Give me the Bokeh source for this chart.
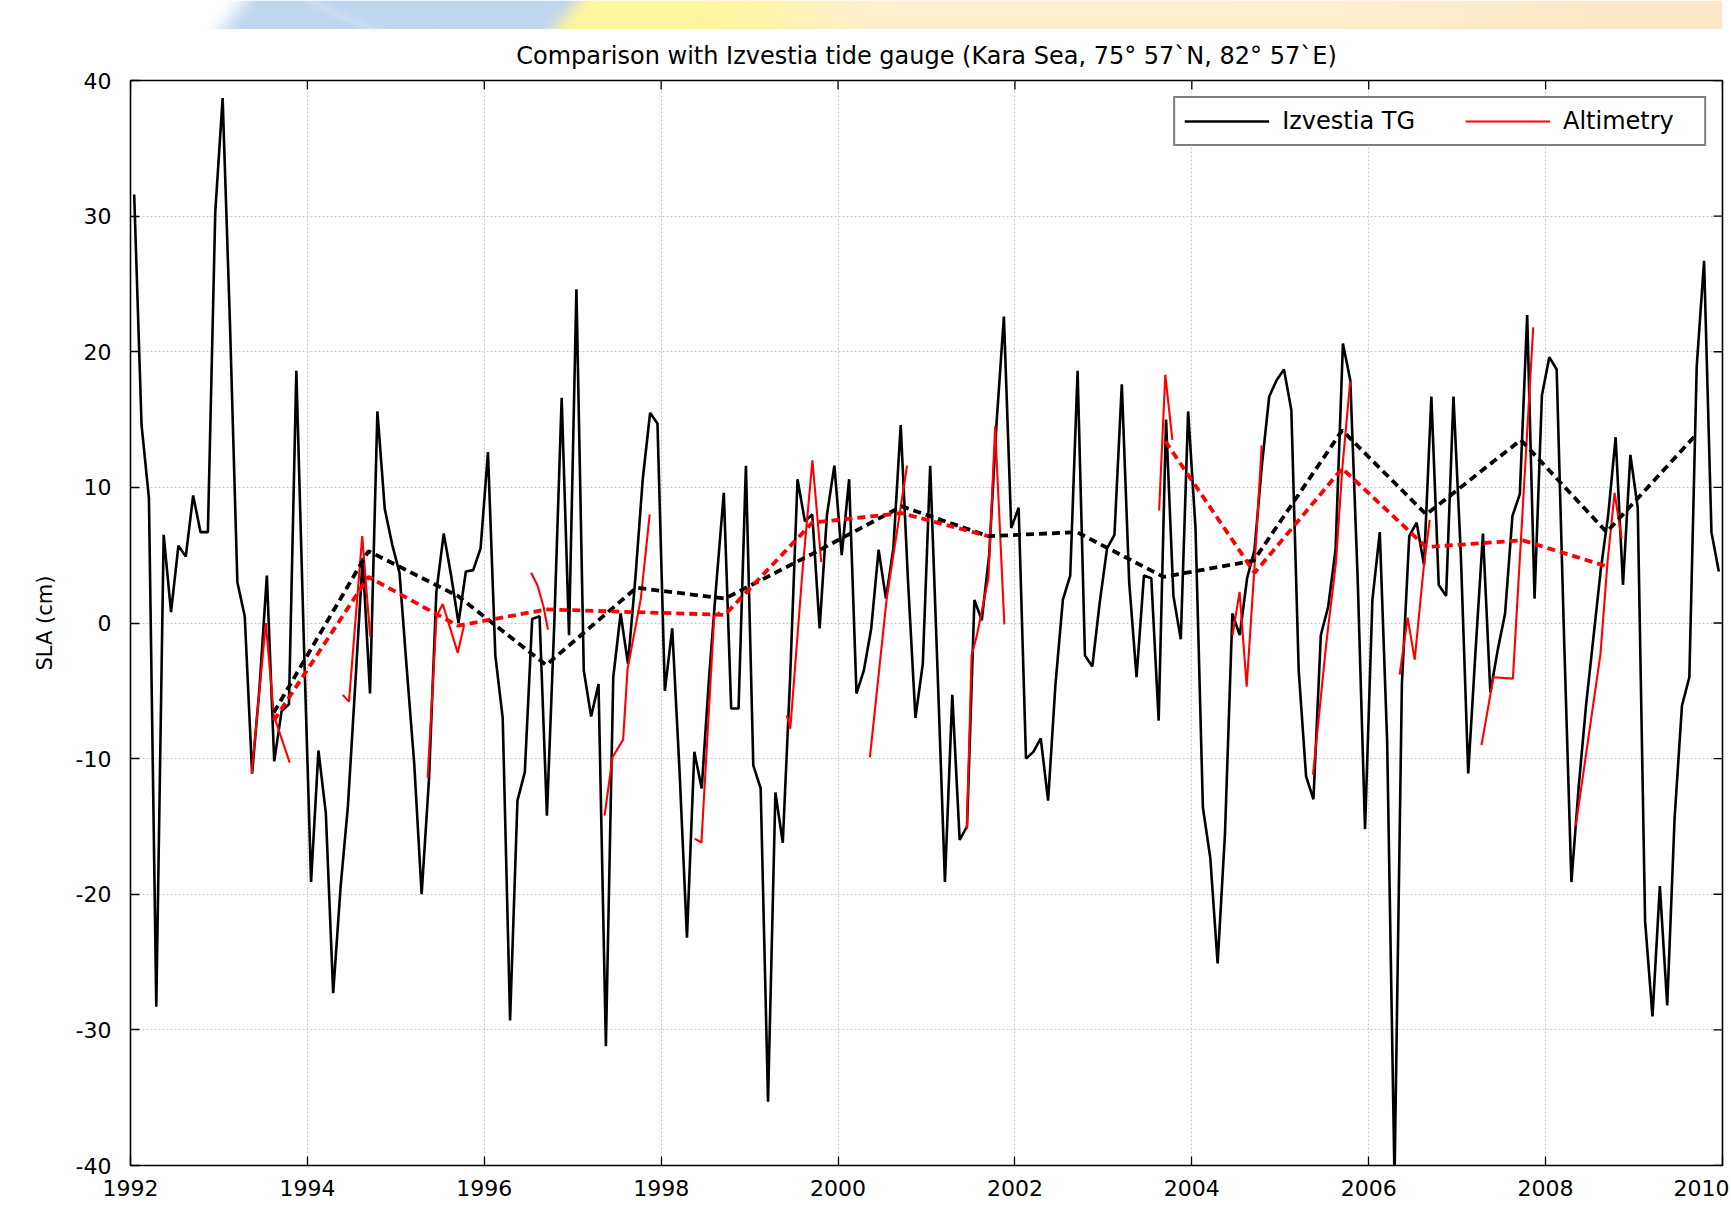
import numpy as np
from bokeh.plotting import figure
from bokeh.models import Range1d, Legend, LegendItem, FixedTicker
from bokeh.layouts import column
from bokeh.embed import file_html
from bokeh.resources import INLINE

FONT = "DejaVu Sans"

# ---------------- data ----------------
title_text = "Comparison with Izvestia tide gauge (Kara Sea, 75\u00b0 57`N, 82\u00b0 57`E)"
y_label = "SLA (cm)"
x_ticks = [1992, 1994, 1996, 1998, 2000, 2002, 2004, 2006, 2008, 2010]
y_ticks = [-40, -30, -20, -10, 0, 10, 20, 30, 40]
legend_labels = ["Izvestia TG", "Altimetry"]

# monthly tide gauge SLA (cm), Jan 1992 .. Dec 2009
tg_start_year = 1992
tg_sla = [
    31.6, 14.6, 9.2, -28.3, 6.5, 0.8, 5.7, 4.9, 9.4, 6.7, 6.7, 30.3,
    38.7, 22.0, 3.0, 0.5, -11.1, -4.8, 3.5, -10.2, -6.5, -6.0, 18.6, -1.0,
    -19.1, -9.4, -14.0, -27.3, -19.5, -13.5, -4.5, 4.8, -5.2, 15.6, 8.4, 5.8,
    3.7, -3.5, -10.4, -20.0, -11.5, 2.3, 6.6, 3.5, 0.0, 3.8, 3.9, 5.5,
    12.6, -2.4, -7.0, -29.3, -13.1, -11.0, 0.3, 0.5, -14.2, 0.0, 16.6, -0.9,
    24.6, -3.5, -6.9, -4.5, -31.2, -4.0, 0.7, -3.0, 3.3, 10.6, 15.5, 14.7,
    -5.0, -0.4, -11.0, -23.2, -9.5, -12.2, -4.0, 3.0, 9.6, -6.3, -6.3, 11.6,
    -10.5, -12.2, -35.3, -12.5, -16.2, -4.0, 10.6, 7.5, 8.0, -0.4, 8.0, 11.6,
    5.0, 10.6, -5.2, -3.5, -0.4, 5.4, 1.8, 5.5, 14.6, 3.0, -7.0, -3.0,
    11.6, -3.5, -19.1, -5.3, -16.0, -15.0, 1.7, 0.2, 5.0, 14.7, 22.6, 7.0,
    8.5, -10.0, -9.5, -8.5, -13.1, -4.5, 1.7, 3.5, 18.6, -2.4, -3.2, 1.5,
    5.5, 6.5, 17.6, 3.0, -4.0, 3.5, 3.3, -7.2, 15.0, 2.0, -1.2, 15.6,
    7.0, -13.6, -17.3, -25.1, -15.5, 0.7, -0.9, 3.3, 5.4, 11.6, 16.7, 17.9,
    18.7, 15.7, -3.5, -11.3, -13.0, -0.9, 1.2, 5.4, 20.6, 17.9, 3.3, -15.2,
    1.7, 6.7, -8.7, -41.0, -4.5, 6.4, 7.4, 4.3, 16.7, 2.8, 2.0, 16.7,
    5.0, -11.1, -2.0, 6.6, -5.1, -2.0, 0.7, 7.9, 9.5, 22.7, 1.8, 16.8,
    19.6, 18.7, -1.0, -19.1, -12.0, -6.0, -1.0, 4.0, 8.0, 13.7, 2.8, 12.4,
    8.5, -22.0, -29.0, -19.4, -28.2, -14.4, -6.1, -4.0, 18.9, 26.7, 6.7, 3.8,
]
tg_time = [tg_start_year + (i + 0.5) / 12.0 for i in range(len(tg_sla))]

# altimetry segments (ice-free seasons)
alt_times = [
    [1993.37, 1993.53, 1993.62, 1993.80],
    [1994.40, 1994.47, 1994.62, 1994.71],
    [1995.36, 1995.46, 1995.53, 1995.70, 1995.77],
    [1996.53, 1996.60, 1996.67, 1996.72],
    [1997.36, 1997.45, 1997.57, 1997.62, 1997.77, 1997.87],
    [1998.38, 1998.455, 1998.60, 1998.66],
    [1999.42, 1999.46, 1999.60, 1999.71, 1999.81],
    [2000.36, 2000.55, 2000.78],
    [2001.456, 2001.51, 2001.57, 2001.70, 2001.776, 2001.88],
    [2003.63, 2003.70, 2003.78],
    [2004.46, 2004.54, 2004.62, 2004.71, 2004.79],
    [2005.37, 2005.52, 2005.63, 2005.70, 2005.79],
    [2006.35, 2006.44, 2006.52, 2006.62, 2006.69],
    [2007.275, 2007.41, 2007.63, 2007.86],
    [2008.34, 2008.62, 2008.70, 2008.78, 2008.86],
]
alt_sla = [
    [-11.1, 0.0, -6.8, -10.3],
    [-5.3, -5.8, 6.4, -1.0],
    [-11.4, 0.5, 1.4, -2.2, -0.2],
    [3.7, 2.8, 1.2, -0.5],
    [-14.2, -9.9, -8.6, -3.4, 1.8, 8.0],
    [-15.9, -16.2, 0.5, 0.8],
    [-6.8, -7.8, 4.0, 12.0, 4.5],
    [-9.9, 1.8, 11.6],
    [-15.2, -2.4, -0.9, 3.3, 14.5, -0.1],
    [8.3, 18.3, 13.5],
    [-0.9, 2.3, -4.7, 4.3, 13.1],
    [-11.2, -1.5, 4.5, 11.3, 17.8],
    [-3.8, 0.4, -2.7, 4.0, 7.6],
    [-9.0, -4.0, -4.1, 21.8],
    [-15.0, -2.3, 4.5, 9.6, 6.2],
]

# annual means (dashed)
tg_annual_year = [1993.62, 1994.69, 1995.70, 1996.70, 1997.72, 1998.72, 1999.71, 2000.72,
                  2001.70, 2002.70, 2003.68, 2004.70, 2005.70, 2006.65, 2007.72, 2008.69, 2009.69]
tg_annual_sla = [-6.6, 5.3, 2.0, -3.1, 2.6, 1.8, 5.1, 8.6,
                 6.4, 6.7, 3.4, 4.6, 14.2, 8.0, 13.5, 6.7, 13.8]
alt_annual_year = [1993.62, 1994.69, 1995.70, 1996.70, 1997.72, 1998.72, 1999.71, 2000.72,
                   2001.70, 2002.70, 2003.70, 2004.71, 2005.70, 2006.65, 2007.74, 2008.68]
alt_annual_sla = [-7.2, 3.4, -0.2, 1.0, 0.8, 0.6, 7.4, 8.1,
                  6.4, float("nan"), 13.4, 3.7, 11.4, 5.6, 6.1, 4.2]

X_MIN, X_MAX = x_ticks[0], x_ticks[-1]
Y_MIN, Y_MAX = y_ticks[0], y_ticks[-1]

# ---------------- layout geometry ----------------
TOTAL_W = 1729
BANNER_H = 29
MAIN_H = 1177
BORDER_L, BORDER_R, BORDER_T, BORDER_B = 130, 7, 50, 41
FRAME_W = TOTAL_W - BORDER_L - BORDER_R
FRAME_H = MAIN_H - BORDER_T - BORDER_B
TICK_PX = 9

# ---------------- banner (decorative slide header) ----------------
BW, BH = TOTAL_W, BANNER_H
X = np.arange(BW)[None, :].astype(float)
Y = np.arange(BH)[:, None].astype(float)


def smooth(t):
    t = np.clip(t, 0.0, 1.0)
    return t * t * (3 - 2 * t)


white = np.array([255, 255, 255.0])
blue = np.array([192, 214, 239.0])
streak = np.array([224, 235, 247.0])
yellow = np.array([255, 246, 158.0])
cream = np.array([254, 239, 206.0])
peach = np.array([252, 232, 200.0])
tb = smooth((X - (100 - 0.8 * Y)) / 45.0)[..., None]
col = white * (1 - tb) + blue * tb
ws = (np.exp(-((X - (195 + 2.3 * Y)) / 13.0) ** 2) * 0.35)[..., None] * tb
col = col * (1 - ws) + streak * ws
ty = smooth((X - (465 - 0.9 * Y)) / 40.0)[..., None]
col = col * (1 - ty) + yellow * ty
tc = smooth((X - 620) / 200.0)[..., None]
col = col * (1 - tc) + cream * tc
tp = smooth((X - 1200) / 500.0)[..., None]
col = col * (1 - tp) + peach * tp
rgba = np.zeros((BH, BW, 4), dtype=np.uint8)
rgba[..., :3] = np.clip(col, 0, 255).astype(np.uint8)
rgba[..., 3] = 255
img = np.flipud(rgba).copy().view(dtype=np.uint32).reshape(BH, BW)

bfig = figure(width=BW, height=BH, x_range=Range1d(0, BW), y_range=Range1d(0, BH),
              x_axis_type=None, y_axis_type=None, toolbar_location=None,
              output_backend="svg", min_border=0)
bfig.outline_line_color = None
bfig.grid.visible = False
bfig.image_rgba(image=[img], x=0, y=0, dw=BW, dh=BH)

# ---------------- main chart ----------------
p = figure(width=TOTAL_W, height=MAIN_H,
           x_range=Range1d(X_MIN, X_MAX), y_range=Range1d(Y_MIN, Y_MAX),
           output_backend="svg", toolbar_location=None,
           min_border_left=BORDER_L, min_border_right=BORDER_R,
           min_border_top=BORDER_T, min_border_bottom=BORDER_B)

p.title.text = title_text
p.title.align = "center"
p.title.text_font = FONT
p.title.text_font_size = "24px"
p.title.text_font_style = "normal"
p.title.text_color = "black"
p.title.standoff = 21

p.outline_line_color = "black"
p.outline_line_width = 1.6

for ax in (p.xaxis[0], p.yaxis[0]):
    ax.major_label_text_font = FONT
    ax.major_label_text_font_size = "22px"
    ax.major_label_text_color = "black"
    ax.major_tick_in = TICK_PX
    ax.major_tick_out = 0
    ax.minor_tick_line_color = None
    ax.axis_line_color = "black"
    ax.major_tick_line_color = "black"
    ax.major_tick_line_width = 1.3

p.xaxis[0].ticker = FixedTicker(ticks=x_ticks)
p.xaxis[0].major_label_standoff = 14
p.yaxis[0].ticker = FixedTicker(ticks=y_ticks)
p.yaxis[0].major_label_overrides = {t: str(t) for t in y_ticks}
p.yaxis[0].major_label_standoff = 19
p.yaxis[0].axis_label = y_label
p.yaxis[0].axis_label_text_font = FONT
p.yaxis[0].axis_label_text_font_size = "21px"
p.yaxis[0].axis_label_text_font_style = "normal"
p.yaxis[0].axis_label_text_color = "black"
p.yaxis[0].axis_label_standoff = 16

# inward ticks on top and right frame edges (MATLAB box style)
dy_tick = TICK_PX * (Y_MAX - Y_MIN) / FRAME_H
dx_tick = TICK_PX * (X_MAX - X_MIN) / FRAME_W
p.segment(x0=x_ticks, y0=[Y_MAX] * len(x_ticks), x1=x_ticks, y1=[Y_MAX - dy_tick] * len(x_ticks),
          line_color="black", line_width=1.3)
p.segment(x0=[X_MAX] * len(y_ticks), y0=y_ticks, x1=[X_MAX - dx_tick] * len(y_ticks), y1=y_ticks,
          line_color="black", line_width=1.3)

p.xgrid.ticker = FixedTicker(ticks=x_ticks)
p.ygrid.ticker = FixedTicker(ticks=y_ticks)
p.grid.grid_line_color = "#c8c8c8"
p.grid.grid_line_dash = "2 2"
p.grid.grid_line_width = 1

r_tg = p.line(tg_time, tg_sla, line_color="black", line_width=2.6)
r_alt = p.multi_line(alt_times, alt_sla, line_color="red", line_width=2.1)
p.line(tg_annual_year, tg_annual_sla, line_color="black", line_width=3.8, line_dash="8 5")
p.line(alt_annual_year, alt_annual_sla, line_color="red", line_width=3.8, line_dash="8 5")

legend = Legend(items=[LegendItem(label=legend_labels[0], renderers=[r_tg]),
                       LegendItem(label=legend_labels[1], renderers=[r_alt])],
                orientation="horizontal", location="top_right",
                glyph_width=85, glyph_height=24, label_standoff=13, spacing=50,
                label_width=132, padding=9, margin=16,
                label_text_font=FONT, label_text_font_size="24px", label_text_color="black",
                border_line_color="black", border_line_width=2,
                background_fill_color="white", background_fill_alpha=1.0)
p.add_layout(legend)

layout = column(bfig, p, spacing=0)
open("out.html", "w").write(file_html(layout, INLINE))
